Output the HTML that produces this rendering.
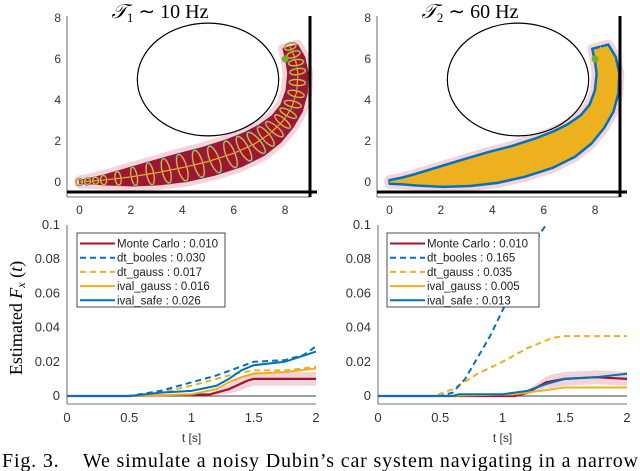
<!DOCTYPE html>
<html><head><meta charset="utf-8">
<style>
html,body{margin:0;padding:0;background:#fff;}
svg{display:block;font-family:"Liberation Sans",sans-serif;}
</style></head>
<body>
<svg id="fig" width="640" height="471" viewBox="0 0 640 471" xmlns="http://www.w3.org/2000/svg">
<text x="160" y="18" text-anchor="middle" font-family="Liberation Serif,serif" font-size="20"><tspan font-style="italic">𝒯</tspan><tspan font-size="13" dy="4">1</tspan><tspan dy="-4"> ∼ 10 Hz</tspan></text>
<text x="470" y="18" text-anchor="middle" font-family="Liberation Serif,serif" font-size="20"><tspan font-style="italic">𝒯</tspan><tspan font-size="13" dy="4">2</tspan><tspan dy="-4"> ∼ 60 Hz</tspan></text>
<text transform="translate(22,318) rotate(-90)" text-anchor="middle" font-family="Liberation Serif,serif" font-size="18">Estimated <tspan font-style="italic">F</tspan><tspan font-style="italic" font-size="12" dy="3">x</tspan><tspan dy="-3"> (</tspan><tspan font-style="italic">t</tspan>)</text>
<text x="2" y="467" font-family="Liberation Serif,serif" font-size="20" textLength="636" lengthAdjust="spacing">Fig. 3.&#160;&#160;&#160;&#160;We simulate a noisy Dubin’s car system navigating in a narrow</text>
</svg>
<script>
// ---- data for bottom charts ----
const tLeftMC=[0,0.5,1.15,1.3,1.45,1.5,2];
const vLeftMC=[0,0,0.001,0.004,0.009,0.010,0.010];
const tLeftBool=[0,0.5,0.75,1.0,1.2,1.35,1.5,1.75,1.9,2];
const vLeftBool=[0,0,0.003,0.008,0.012,0.016,0.020,0.021,0.024,0.029];
const tLeftDtG=[0,0.5,0.75,1.0,1.2,1.35,1.5,1.75,2];
const vLeftDtG=[0,0,0.002,0.006,0.010,0.013,0.015,0.015,0.017];
const tLeftIG=[0,0.5,1.0,1.2,1.3,1.4,1.5,1.75,2];
const vLeftIG=[0,0,0.001,0.004,0.008,0.011,0.013,0.014,0.016];
const tLeftIS=[0,0.5,0.75,1.0,1.2,1.3,1.4,1.5,1.75,2];
const vLeftIS=[0,0,0.002,0.003,0.006,0.010,0.015,0.018,0.020,0.026];
const tRightMC=[0,1.1,1.2,1.35,1.5,1.75,2];
const vRightMC=[0,0,0.002,0.008,0.010,0.011,0.010];
const tRightBool=[0,0.5,0.6,0.7,0.9,1.1,1.3,1.4];
const vRightBool=[0,0,0.002,0.010,0.035,0.065,0.095,0.105];
const tRightDtG=[0,0.45,0.6,0.8,1.0,1.2,1.4,1.5,2];
const vRightDtG=[0,0,0.004,0.013,0.020,0.028,0.034,0.035,0.035];
const tRightIG=[0,0.5,1.1,1.3,1.5,2];
const vRightIG=[0,0,0.001,0.003,0.005,0.005];
const tRightIS=[0,0.6,0.65,1.0,1.2,1.35,1.5,1.75,2];
const vRightIS=[0,0,0.001,0.001,0.003,0.007,0.010,0.011,0.013];
const xTicks=[0,0.5,1,1.5,2];
const xTickLabels=["0","0.5","1","1.5","2"];
const yTicks=[0,0.02,0.04,0.06,0.08,0.1];
const yTickLabels=["0","0.02","0.04","0.06","0.08","0.1"];
const legendLeft=["Monte Carlo : 0.010","dt_booles : 0.030","dt_gauss : 0.017","ival_gauss : 0.016","ival_safe : 0.026"];
const legendRight=["Monte Carlo : 0.010","dt_booles : 0.165","dt_gauss : 0.035","ival_gauss : 0.005","ival_safe : 0.013"];
// ---- data for top trajectory plots ----
const pathX=[0,0.5,1,2,3,4,5,6,6.8,7.4,7.9,8.25,8.45,8.5,8.4,8.2];
const pathY=[0,0.05,0.1,0.25,0.45,0.7,1.0,1.4,1.85,2.35,2.95,3.6,4.4,5.3,6.0,6.6];
const spread=[0.08,0.15,0.25,0.45,0.6,0.7,0.72,0.72,0.68,0.6,0.5,0.45,0.42,0.4,0.38,0.3];
const topTicks=[0,2,4,6,8];

const NS="http://www.w3.org/2000/svg";
const svg=document.getElementById('fig');
function mk(tag,attrs,parent){const e=document.createElementNS(NS,tag);for(const k in attrs)e.setAttribute(k,attrs[k]);(parent||svg).appendChild(e);return e;}
const RED="#a2142f",BLUE="#0072bd",ORG="#edb120";

function interp(xs,ys,x){for(let i=1;i<xs.length;i++){if(x<=xs[i]){const f=(x-xs[i-1])/(xs[i]-xs[i-1]);return ys[i-1]+f*(ys[i]-ys[i-1]);}}return ys[ys.length-1];}

function topPanel(ox,dense,name){
  const g=mk('g',{});
  
  
  const X=v=>ox+12.5+v*25.7, Y=v=>182-v*20.5;
  mk('line',{x1:ox,y1:16,x2:ox,y2:197,stroke:'#444','stroke-width':0.8},g);
  mk('line',{x1:ox,y1:197,x2:ox+243,y2:197,stroke:'#444','stroke-width':0.8},g);
  topTicks.forEach(t=>{
    const tx=mk('text',{x:X(t),y:214,'text-anchor':'middle','font-size':12,fill:'#333'},g);tx.textContent=t;
    
    
    const ty=mk('text',{x:ox-6,y:Y(t)+4,'text-anchor':'end','font-size':12,fill:'#333'},g);ty.textContent=t;
    
    
  });
  const up=[],lo=[];
  for(let i=0;i<pathX.length;i++){
    const i0=Math.max(0,i-1),i1=Math.min(pathX.length-1,i+1);
    let dx=pathX[i1]-pathX[i0],dy=pathY[i1]-pathY[i0];const L=Math.hypot(dx,dy);dx/=L;dy/=L;
    const s=spread[i]*(dense?1.1:1);
    up.push([X(pathX[i]-dy*s),Y(pathY[i]+dx*s)]);lo.push([X(pathX[i]+dy*s),Y(pathY[i]-dx*s)]);
  }
  const poly=up.concat(lo.reverse()).map(p=>p.join(',')).join(' ');
  mk('polygon',{points:poly,fill:'#f4d3da',stroke:'#f4d3da','stroke-width':10,'stroke-linejoin':'round'},g);
  const band=mk('polygon',{points:poly,fill:dense?ORG:RED,stroke:dense?BLUE:RED,'stroke-width':dense?2.5:1,'stroke-linejoin':'round'},g);
  
  
  const mean=mk('polyline',{points:pathX.map((x,i)=>X(x)+','+Y(pathY[i])).join(' '),fill:'none',stroke:ORG,'stroke-width':1.2},g);
  
  
  if(!dense){
    for(let s=0;s<=1.0001;s+=1/24){
      const k=s*(pathX.length-1);const i=Math.min(Math.floor(k),pathX.length-2),f=k-i;
      const x=pathX[i]+f*(pathX[i+1]-pathX[i]),y=pathY[i]+f*(pathY[i+1]-pathY[i]);
      const sp=spread[i]+f*(spread[i+1]-spread[i]);
      const ang=Math.atan2(pathY[i+1]-pathY[i],pathX[i+1]-pathX[i])*180/Math.PI;
      const e1=mk('ellipse',{cx:X(x),cy:Y(y),rx:Math.max(3.5,sp*7),ry:Math.max(3.5,sp*21),fill:'none',stroke:BLUE,'stroke-width':1.3,transform:`rotate(${-ang} ${X(x)} ${Y(y)})`},g);
      
      
      const e2=mk('ellipse',{cx:X(x),cy:Y(y),rx:Math.max(3,sp*6.3),ry:Math.max(3,sp*19.5),fill:'none',stroke:ORG,'stroke-width':1.3,transform:`rotate(${-ang} ${X(x)} ${Y(y)})`},g);
      
      
    }
  }
  mk('circle',{cx:X(8),cy:Y(6),r:3.5,fill:'#77ac30'},g);
  const obs=mk('ellipse',{cx:X(5),cy:Y(5),rx:2.75*25.7,ry:2.75*20.5,fill:'none',stroke:'#000','stroke-width':1.2},g);
  
  
  const w1=mk('line',{x1:ox+243,y1:16,x2:ox+243,y2:197,stroke:'#000','stroke-width':3},g);
  
  
  const w2=mk('line',{x1:ox,y1:192,x2:ox+250,y2:192,stroke:'#000','stroke-width':3},g);
  
  
}
topPanel(67,false,'trajectory-plot-10hz');
topPanel(377,true,'trajectory-plot-60hz');

function bottomPanel(x0,x1,legX,labels,S,name){
  const g=mk('g',{});
  
  
  const cid='clip'+name;
  const cp=mk('clipPath',{id:cid},g);mk('rect',{x:x0,y:225,width:x1-x0,height:180},cp);
  const X=t=>x0+t/2*(x1-x0), Y=v=>396-v/0.1*171;
  mk('line',{x1:x0,y1:225,x2:x0,y2:404,stroke:'#444','stroke-width':0.8},g);
  mk('line',{x1:x0,y1:404,x2:x1,y2:404,stroke:'#444','stroke-width':0.8},g);
  mk('line',{x1:x0,y1:396,x2:x1,y2:396,stroke:'#000','stroke-width':0.8},g);
  xTicks.forEach((t,i)=>{const e=mk('text',{x:X(t),y:422,'text-anchor':'middle','font-size':13,fill:'#333'},g);e.textContent=xTickLabels[i];
    
    });
  yTicks.forEach((t,i)=>{const e=mk('text',{x:x0-7,y:Y(t)+4,'text-anchor':'end','font-size':13,fill:'#333'},g);e.textContent=yTickLabels[i];
    
    });
  const xl=mk('text',{x:(x0+x1)/2,y:442,'text-anchor':'middle','font-size':12,fill:'#333'},g);xl.textContent='t [s]';
  
  
  const cg=mk('g',{'clip-path':`url(#${cid})`},g);
  const [tm,vm]=S[0];const bt=[];for(let t=1.1;t<=2.0001;t+=0.05)bt.push(t);
  const pts=bt.map(t=>X(t)+','+Y(interp(tm,vm,t)+0.004*Math.min(1,(t-1.1)/0.3))).concat(bt.slice().reverse().map(t=>X(t)+','+Y(Math.max(0,interp(tm,vm,t)-0.004*Math.min(1,(t-1.1)/0.3)))));
  const band=mk('polygon',{points:pts.join(' '),fill:'#a2142f',opacity:0.18},cg);
  
  
  const styles=[[RED,'',2.2],[BLUE,'6,4',2],[ORG,'6,4',2],[ORG,'',2],[BLUE,'',2]];
  const names=['monte-carlo-line','dt-booles-line','dt-gauss-line','ival-gauss-line','ival-safe-line'];
  [0,3,2,1,4].forEach(k=>{
    const [ts,vs]=S[k];
    const l=mk('polyline',{points:ts.map((t,i)=>X(t)+','+Y(vs[i])).join(' '),fill:'none',stroke:styles[k][0],'stroke-width':styles[k][2],'stroke-dasharray':styles[k][1]},cg);
    
    
  });
  const lg=mk('g',{},g);
  
  
  const w=name.includes('left')?148:152;
  mk('rect',{x:legX,y:233,width:w,height:74,fill:'#fff',stroke:'#222','stroke-width':0.8},lg);
  labels.forEach((lab,i)=>{
    const y=243.5+i*14.2;
    mk('line',{x1:legX+3,y1:y,x2:legX+38,y2:y,stroke:styles[i][0],'stroke-width':2,'stroke-dasharray':styles[i][1]},lg);
    const e=mk('text',{x:legX+40,y:y+4,'font-size':11.5,fill:'#222'},lg);e.textContent=lab;
    
    
  });
}
bottomPanel(67,316,77,legendLeft,[[tLeftMC,vLeftMC],[tLeftBool,vLeftBool],[tLeftDtG,vLeftDtG],[tLeftIG,vLeftIG],[tLeftIS,vLeftIS]],'failure-plot-left');
bottomPanel(378,627,387,legendRight,[[tRightMC,vRightMC],[tRightBool,vRightBool],[tRightDtG,vRightDtG],[tRightIG,vRightIG],[tRightIS,vRightIS]],'failure-plot-right');
</script>
</body></html>
